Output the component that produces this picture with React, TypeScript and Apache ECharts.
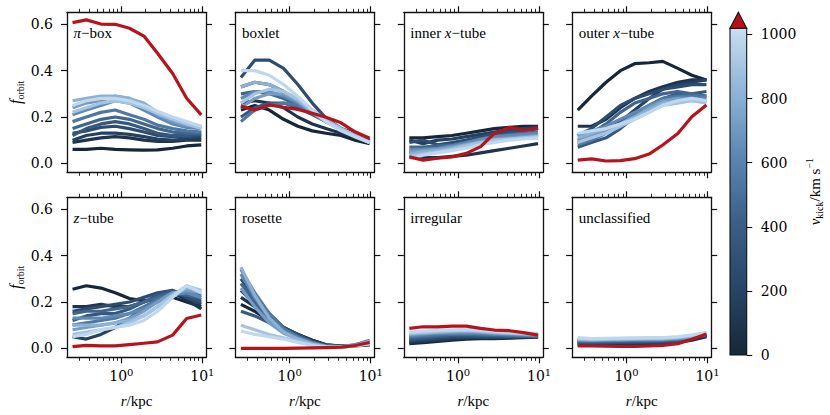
import * as echarts from "echarts"
import { useEffect, useRef } from "react"

// radial bins (kpc)
const R = [0.25, 0.37, 0.56, 0.84, 1.26, 1.9, 2.8, 4.3, 6.4, 9.7]

// kick velocities of the blue runs (km/s)
const KICKS = [0, 90, 180, 270, 360, 450, 540, 630, 720, 810, 900, 990]

const PI_BOX = [
  [0.06, 0.06, 0.065, 0.06, 0.058, 0.057, 0.058, 0.065, 0.075, 0.08],
  [0.09, 0.1, 0.11, 0.115, 0.11, 0.1, 0.095, 0.095, 0.1, 0.1],
  [0.1, 0.12, 0.13, 0.13, 0.125, 0.115, 0.105, 0.1, 0.105, 0.11],
  [0.13, 0.14, 0.155, 0.16, 0.15, 0.135, 0.12, 0.115, 0.115, 0.12],
  [0.12, 0.15, 0.17, 0.18, 0.17, 0.15, 0.13, 0.12, 0.12, 0.125],
  [0.15, 0.17, 0.19, 0.2, 0.19, 0.17, 0.15, 0.135, 0.13, 0.13],
  [0.18, 0.2, 0.22, 0.23, 0.21, 0.19, 0.165, 0.15, 0.14, 0.135],
  [0.21, 0.23, 0.25, 0.27, 0.26, 0.23, 0.2, 0.17, 0.155, 0.15],
  [0.24, 0.26, 0.27, 0.29, 0.28, 0.25, 0.21, 0.18, 0.165, 0.155],
  [0.27, 0.28, 0.29, 0.29, 0.28, 0.26, 0.22, 0.19, 0.17, 0.16],
  [0.22, 0.24, 0.26, 0.27, 0.26, 0.24, 0.215, 0.19, 0.17, 0.15],
  [0.25, 0.27, 0.28, 0.28, 0.27, 0.25, 0.225, 0.2, 0.18, 0.16],
]
const PI_BOX_RED = [0.607, 0.619, 0.601, 0.6, 0.583, 0.549, 0.475, 0.388, 0.281, 0.209]

const BOXLET = [
  [0.23, 0.25, 0.23, 0.19, 0.16, 0.14, 0.13, 0.12, 0.1, 0.085],
  [0.26, 0.27, 0.26, 0.24, 0.2, 0.17, 0.15, 0.13, 0.11, 0.09],
  [0.33, 0.35, 0.34, 0.31, 0.27, 0.22, 0.18, 0.15, 0.12, 0.095],
  [0.37, 0.445, 0.445, 0.41, 0.34, 0.26, 0.195, 0.15, 0.13, 0.1],
  [0.2, 0.24, 0.26, 0.26, 0.24, 0.21, 0.18, 0.15, 0.12, 0.095],
  [0.3, 0.31, 0.3, 0.28, 0.25, 0.22, 0.18, 0.15, 0.12, 0.095],
  [0.18, 0.23, 0.25, 0.26, 0.25, 0.22, 0.185, 0.15, 0.12, 0.09],
  [0.28, 0.31, 0.31, 0.29, 0.26, 0.22, 0.18, 0.145, 0.12, 0.09],
  [0.24, 0.28, 0.3, 0.3, 0.27, 0.23, 0.19, 0.15, 0.12, 0.09],
  [0.33, 0.35, 0.34, 0.31, 0.27, 0.22, 0.18, 0.145, 0.115, 0.09],
  [0.26, 0.3, 0.32, 0.31, 0.28, 0.23, 0.185, 0.15, 0.12, 0.09],
  [0.4, 0.4, 0.38, 0.34, 0.29, 0.23, 0.18, 0.14, 0.115, 0.09],
]
const BOXLET_RED = [0.247, 0.23, 0.252, 0.242, 0.233, 0.216, 0.199, 0.175, 0.136, 0.108]

const INNER_X_TUBE = [
  [0.11, 0.11, 0.115, 0.12, 0.13, 0.14, 0.15, 0.155, 0.16, 0.16],
  [0.03, 0.025, 0.025, 0.03, 0.035, 0.045, 0.055, 0.065, 0.075, 0.085],
  [0.1, 0.085, 0.1, 0.105, 0.115, 0.125, 0.135, 0.145, 0.15, 0.155],
  [0.09, 0.1, 0.08, 0.09, 0.1, 0.115, 0.125, 0.135, 0.14, 0.15],
  [0.05, 0.045, 0.05, 0.06, 0.075, 0.09, 0.1, 0.11, 0.115, 0.12],
  [0.07, 0.07, 0.075, 0.08, 0.09, 0.1, 0.115, 0.125, 0.13, 0.135],
  [0.04, 0.05, 0.06, 0.07, 0.085, 0.1, 0.11, 0.115, 0.12, 0.125],
  [0.06, 0.06, 0.065, 0.075, 0.09, 0.105, 0.115, 0.12, 0.125, 0.13],
  [0.05, 0.055, 0.06, 0.07, 0.08, 0.095, 0.105, 0.11, 0.115, 0.12],
  [0.04, 0.05, 0.055, 0.065, 0.08, 0.09, 0.1, 0.105, 0.11, 0.11],
  [0.03, 0.04, 0.05, 0.06, 0.075, 0.09, 0.1, 0.105, 0.11, 0.115],
  [0.02, 0.035, 0.045, 0.055, 0.065, 0.08, 0.09, 0.1, 0.105, 0.11],
]
const INNER_X_TUBE_RED = [0.028, 0.014, 0.022, 0.028, 0.043, 0.072, 0.129, 0.155, 0.144, 0.151]

const OUTER_X_TUBE = [
  [0.23, 0.29, 0.35, 0.4, 0.43, 0.434, 0.44, 0.41, 0.38, 0.36],
  [0.16, 0.16, 0.19, 0.24, 0.28, 0.31, 0.33, 0.35, 0.36, 0.36],
  [0.09, 0.11, 0.14, 0.18, 0.23, 0.28, 0.32, 0.34, 0.35, 0.36],
  [0.12, 0.15, 0.2, 0.25, 0.28, 0.3, 0.32, 0.33, 0.34, 0.34],
  [0.07, 0.09, 0.11, 0.15, 0.2, 0.25, 0.28, 0.3, 0.3, 0.31],
  [0.1, 0.13, 0.17, 0.22, 0.26, 0.28, 0.3, 0.31, 0.3, 0.29],
  [0.08, 0.1, 0.13, 0.17, 0.21, 0.25, 0.28, 0.29, 0.29, 0.29],
  [0.12, 0.14, 0.16, 0.19, 0.22, 0.25, 0.27, 0.28, 0.28, 0.28],
  [0.1, 0.12, 0.14, 0.17, 0.2, 0.24, 0.27, 0.28, 0.28, 0.27],
  [0.11, 0.13, 0.15, 0.17, 0.2, 0.23, 0.26, 0.27, 0.27, 0.27],
  [0.09, 0.11, 0.13, 0.16, 0.19, 0.22, 0.25, 0.26, 0.27, 0.26],
  [0.13, 0.14, 0.15, 0.17, 0.19, 0.22, 0.25, 0.27, 0.28, 0.27],
]
const OUTER_X_TUBE_RED = [0.014, 0.019, 0.01, 0.012, 0.02, 0.04, 0.079, 0.129, 0.201, 0.252]

const Z_TUBE = [
  [0.255, 0.27, 0.26, 0.24, 0.215, 0.205, 0.21, 0.22, 0.2, 0.18],
  [0.18, 0.18, 0.19, 0.18, 0.18, 0.2, 0.22, 0.24, 0.21, 0.17],
  [0.05, 0.04, 0.06, 0.09, 0.13, 0.17, 0.21, 0.24, 0.22, 0.19],
  [0.16, 0.17, 0.18, 0.19, 0.2, 0.22, 0.24, 0.25, 0.22, 0.2],
  [0.12, 0.14, 0.15, 0.15, 0.17, 0.2, 0.23, 0.25, 0.23, 0.21],
  [0.15, 0.16, 0.16, 0.17, 0.18, 0.2, 0.22, 0.24, 0.23, 0.22],
  [0.1, 0.11, 0.12, 0.13, 0.15, 0.18, 0.21, 0.24, 0.24, 0.23],
  [0.13, 0.13, 0.13, 0.14, 0.15, 0.17, 0.2, 0.23, 0.24, 0.22],
  [0.08, 0.09, 0.1, 0.11, 0.13, 0.16, 0.2, 0.24, 0.25, 0.24],
  [0.1, 0.1, 0.1, 0.11, 0.12, 0.14, 0.18, 0.23, 0.26, 0.25],
  [0.06, 0.07, 0.08, 0.09, 0.11, 0.14, 0.18, 0.23, 0.27, 0.25],
  [0.05, 0.06, 0.08, 0.09, 0.1, 0.12, 0.16, 0.22, 0.27, 0.24],
]
const Z_TUBE_RED = [0.007, 0.013, 0.011, 0.011, 0.016, 0.022, 0.028, 0.057, 0.129, 0.144]

const ROSETTE = [
  [0.19, 0.16, 0.12, 0.085, 0.06, 0.035, 0.015, 0.01, 0.01, 0.015],
  [0.22, 0.18, 0.13, 0.09, 0.06, 0.035, 0.015, 0.01, 0.012, 0.02],
  [0.25, 0.19, 0.13, 0.085, 0.055, 0.03, 0.012, 0.008, 0.012, 0.025],
  [0.3, 0.22, 0.15, 0.09, 0.06, 0.03, 0.012, 0.008, 0.012, 0.025],
  [0.16, 0.14, 0.11, 0.08, 0.05, 0.028, 0.01, 0.006, 0.01, 0.02],
  [0.28, 0.2, 0.13, 0.08, 0.05, 0.025, 0.01, 0.006, 0.012, 0.03],
  [0.34, 0.24, 0.15, 0.085, 0.05, 0.025, 0.01, 0.008, 0.015, 0.035],
  [0.32, 0.22, 0.13, 0.075, 0.045, 0.022, 0.01, 0.008, 0.015, 0.03],
  [0.26, 0.18, 0.11, 0.065, 0.04, 0.02, 0.008, 0.006, 0.012, 0.025],
  [0.35, 0.23, 0.13, 0.07, 0.04, 0.02, 0.008, 0.006, 0.012, 0.03],
  [0.1, 0.08, 0.06, 0.045, 0.03, 0.015, 0.006, 0.005, 0.01, 0.02],
  [0.075, 0.06, 0.05, 0.04, 0.025, 0.012, 0.005, 0.005, 0.01, 0.02],
]
const ROSETTE_RED = [0.0, 0.0, 0.0, 0.0, 0.001, 0.002, 0.003, 0.005, 0.012, 0.025]

const IRREGULAR = [
  [0.02, 0.025, 0.03, 0.035, 0.04, 0.042, 0.042, 0.044, 0.046, 0.048],
  [0.025, 0.03, 0.035, 0.04, 0.045, 0.045, 0.045, 0.046, 0.048, 0.05],
  [0.03, 0.035, 0.04, 0.045, 0.048, 0.048, 0.047, 0.048, 0.05, 0.05],
  [0.035, 0.04, 0.045, 0.05, 0.052, 0.05, 0.05, 0.05, 0.05, 0.05],
  [0.04, 0.045, 0.05, 0.055, 0.057, 0.055, 0.053, 0.052, 0.052, 0.052],
  [0.045, 0.05, 0.055, 0.06, 0.06, 0.058, 0.056, 0.055, 0.054, 0.053],
  [0.05, 0.055, 0.06, 0.062, 0.064, 0.062, 0.06, 0.058, 0.056, 0.055],
  [0.055, 0.06, 0.065, 0.066, 0.068, 0.065, 0.062, 0.06, 0.058, 0.056],
  [0.06, 0.064, 0.068, 0.07, 0.072, 0.07, 0.066, 0.063, 0.06, 0.058],
  [0.062, 0.066, 0.07, 0.073, 0.075, 0.072, 0.068, 0.065, 0.062, 0.06],
  [0.065, 0.07, 0.074, 0.077, 0.078, 0.075, 0.07, 0.067, 0.064, 0.062],
  [0.07, 0.074, 0.078, 0.08, 0.082, 0.078, 0.074, 0.07, 0.067, 0.065],
]
const IRREGULAR_RED = [0.086, 0.093, 0.093, 0.096, 0.096, 0.086, 0.079, 0.076, 0.068, 0.057]

const UNCLASSIFIED = [
  [0.015, 0.015, 0.016, 0.017, 0.018, 0.019, 0.02, 0.025, 0.035, 0.05],
  [0.02, 0.019, 0.019, 0.02, 0.021, 0.022, 0.024, 0.028, 0.04, 0.055],
  [0.022, 0.021, 0.022, 0.023, 0.024, 0.025, 0.026, 0.03, 0.042, 0.056],
  [0.025, 0.024, 0.025, 0.026, 0.027, 0.028, 0.029, 0.033, 0.044, 0.057],
  [0.028, 0.027, 0.028, 0.029, 0.03, 0.03, 0.031, 0.035, 0.045, 0.058],
  [0.03, 0.03, 0.031, 0.032, 0.033, 0.033, 0.034, 0.037, 0.047, 0.06],
  [0.033, 0.032, 0.033, 0.034, 0.035, 0.035, 0.036, 0.04, 0.049, 0.061],
  [0.035, 0.034, 0.035, 0.036, 0.037, 0.037, 0.038, 0.042, 0.05, 0.062],
  [0.038, 0.036, 0.037, 0.038, 0.039, 0.04, 0.04, 0.044, 0.052, 0.064],
  [0.04, 0.038, 0.039, 0.04, 0.041, 0.042, 0.042, 0.046, 0.054, 0.065],
  [0.043, 0.04, 0.041, 0.042, 0.043, 0.044, 0.044, 0.048, 0.056, 0.066],
  [0.046, 0.042, 0.043, 0.044, 0.045, 0.046, 0.046, 0.05, 0.058, 0.068],
]
const UNCLASSIFIED_RED = [0.011, 0.01, 0.009, 0.008, 0.008, 0.01, 0.013, 0.02, 0.039, 0.062]

const PANEL_LABELS = [
  "{i|π}{n|−box}",
  "{n|boxlet}",
  "{n|inner }{i|x}{n|−tube}",
  "{n|outer }{i|x}{n|−tube}",
  "{i|z}{n|−tube}",
  "{n|rosette}",
  "{n|irregular}",
  "{n|unclassified}",
]
const PANEL_BLUE = [PI_BOX, BOXLET, INNER_X_TUBE, OUTER_X_TUBE, Z_TUBE, ROSETTE, IRREGULAR, UNCLASSIFIED]
const PANEL_RED = [
  PI_BOX_RED, BOXLET_RED, INNER_X_TUBE_RED, OUTER_X_TUBE_RED,
  Z_TUBE_RED, ROSETTE_RED, IRREGULAR_RED, UNCLASSIFIED_RED,
]

// tick values
const Y_TICKS = [0, 0.2, 0.4, 0.6]
const X_MAJOR = [1, 10]
const X_MINOR = [0.3, 0.4, 0.5, 0.6, 0.7, 0.8, 0.9, 2, 3, 4, 5, 6, 7, 8, 9]
const CB_TICKS = [0, 200, 400, 600, 800, 1000]

// axis ranges
const X_MIN = 0.2136
const X_MAX = 11.1
const Y_MIN = -0.0387
const Y_MAX = 0.6518
const CB_MAX = 1019

// layout
const COL_LEFT = [67, 235.4, 403.8, 572.2]
const ROW_TOP = [12.3, 197.3]
const PW = 139
const PH = 160

const RED = "#b5141c"
const INK = "#111"
const TICK_FONT = "'DejaVu Serif', serif"
const TEXT_FONT = "'Liberation Serif', 'Times New Roman', serif"

const CMAP: [number, string][] = [
  [0, "#162739"],
  [0.2, "#274566"],
  [0.4, "#3a5e85"],
  [0.6, "#5a85af"],
  [0.8, "#8db2d6"],
  [1, "#c8def2"],
]

function hexToRgb(h: string) {
  const n = parseInt(h.slice(1), 16)
  return [(n >> 16) & 255, (n >> 8) & 255, n & 255]
}

function cmap(t: number) {
  const v = Math.max(0, Math.min(1, t))
  for (let i = 1; i < CMAP.length; i++) {
    if (v <= CMAP[i][0]) {
      const [t0, c0] = CMAP[i - 1]
      const [t1, c1] = CMAP[i]
      const f = (v - t0) / (t1 - t0)
      const a = hexToRgb(c0)
      const b = hexToRgb(c1)
      const c = a.map((x, k) => Math.round(x + (b[k] - x) * f))
      return `rgb(${c[0]},${c[1]},${c[2]})`
    }
  }
  return CMAP[CMAP.length - 1][1]
}

const txt = (size: number, extra: any = {}) => ({
  fontFamily: TEXT_FONT,
  fontSize: size,
  fontWeight: "normal",
  color: "#000",
  ...extra,
})

export default function App() {
  const ref = useRef<HTMLDivElement>(null)

  useEffect(() => {
    if (!ref.current) return
    const chart = echarts.init(ref.current, null, { renderer: "svg" })

    const grid: any[] = []
    const xAxis: any[] = []
    const yAxis: any[] = []
    const series: any[] = []
    const title: any[] = []

    const frame = { show: true, onZero: false, lineStyle: { color: INK, width: 1.3 } }
    const noLine = { show: false, onZero: false }
    const majorTick = (vals: number[]) => ({
      show: true,
      inside: false,
      customValues: vals,
      length: 6,
      lineStyle: { color: INK, width: 1.2 },
    })
    const minorTick = {
      show: true,
      inside: false,
      customValues: X_MINOR,
      length: 3.5,
      lineStyle: { color: INK, width: 0.9 },
    }

    for (let g = 0; g < 8; g++) {
      const row = Math.floor(g / 4)
      const col = g % 4
      const box = {
        left: COL_LEFT[col],
        top: ROW_TOP[row],
        width: PW,
        height: PH,
        outerBoundsMode: "none",
        containLabel: false,
      }
      // grid A: frame, major ticks, data; grid B: minor x ticks
      grid.push({ ...box }, { ...box })
      const gA = 2 * g
      const gB = 2 * g + 1
      const xBase = {
        type: "log",
        logBase: 10,
        min: X_MIN,
        max: X_MAX,
        splitLine: { show: false },
        minorTick: { show: false },
      }

      xAxis.push({
        ...xBase,
        gridIndex: gA,
        position: "bottom",
        axisLine: frame,
        axisTick: majorTick(X_MAJOR),
        axisLabel:
          row === 1
            ? {
                show: true,
                customValues: X_MAJOR,
                margin: 10,
                formatter: (v: number) => `{b|10}{s|${Math.round(Math.log10(v))}}`,
                rich: {
                  b: { fontFamily: TICK_FONT, fontSize: 14, lineHeight: 18, color: "#000" },
                  s: { fontFamily: TICK_FONT, fontSize: 10, lineHeight: 10, verticalAlign: "top", color: "#000" },
                },
              }
            : { show: false },
        name: row === 1 ? "{i|r}{n|/kpc}" : "",
        nameLocation: "middle",
        nameGap: 36,
        nameTextStyle: {
          rich: {
            i: txt(15, { fontStyle: "italic" }),
            n: txt(15),
          },
        },
      })
      xAxis.push({
        ...xBase,
        gridIndex: gA,
        position: "top",
        axisLine: frame,
        axisTick: majorTick(X_MAJOR),
        axisLabel: { show: false },
      })
      xAxis.push({
        ...xBase,
        gridIndex: gB,
        position: "bottom",
        axisLine: noLine,
        axisTick: minorTick,
        axisLabel: { show: false },
      })
      xAxis.push({
        ...xBase,
        gridIndex: gB,
        position: "top",
        axisLine: noLine,
        axisTick: minorTick,
        axisLabel: { show: false },
      })

      const yBase = { type: "value", min: Y_MIN, max: Y_MAX, splitLine: { show: false } }
      yAxis.push({
        ...yBase,
        gridIndex: gA,
        position: "left",
        axisLine: frame,
        axisTick: majorTick(Y_TICKS),
        axisLabel:
          col === 0
            ? {
                show: true,
                customValues: Y_TICKS,
                margin: 14,
                formatter: (v: number) => v.toFixed(1),
                fontFamily: TICK_FONT,
                fontSize: 14,
                color: "#000",
              }
            : { show: false },
        name: col === 0 ? "{f|f}{o|orbit}" : "",
        nameLocation: "middle",
        nameRotate: 90,
        nameGap: 42,
        nameTextStyle: {
          rich: {
            f: txt(16, { fontStyle: "italic", lineHeight: 20 }),
            o: txt(10, { lineHeight: 10, verticalAlign: "bottom" }),
          },
        },
      })
      yAxis.push({
        ...yBase,
        gridIndex: gA,
        position: "right",
        axisLine: frame,
        axisTick: majorTick(Y_TICKS),
        axisLabel: { show: false },
      })
      yAxis.push({ ...yBase, gridIndex: gB, show: false, axisLine: noLine })

      const blue = PANEL_BLUE[g]
      blue.forEach((vals, k) => {
        series.push({
          type: "line",
          xAxisIndex: 4 * g,
          yAxisIndex: 3 * g,
          data: R.map((r, i) => [r, vals[i]]),
          symbol: "none",
          silent: true,
          lineStyle: { color: cmap(KICKS[k] / CB_MAX), width: 3.2, join: "round" },
          z: 2,
        })
      })
      series.push({
        type: "line",
        xAxisIndex: 4 * g,
        yAxisIndex: 3 * g,
        data: R.map((r, i) => [r, PANEL_RED[g][i]]),
        symbol: "none",
        silent: true,
        lineStyle: { color: RED, width: 3.2, join: "round" },
        z: 3,
      })

      title.push({
        text: PANEL_LABELS[g],
        left: COL_LEFT[col] + 6.5,
        top: ROW_TOP[row] + 12,
        padding: 0,
        textStyle: {
          ...txt(15, { lineHeight: 18 }),
          rich: {
            i: txt(15, { fontStyle: "italic", lineHeight: 18 }),
            n: txt(15, { lineHeight: 18 }),
          },
        },
      })
    }

    // colorbar
    grid.push({ left: 730, top: 28.3, width: 16.7, height: 326.7, outerBoundsMode: "none", containLabel: false })
    xAxis.push({ type: "value", gridIndex: 16, min: 0, max: 1, show: false })
    yAxis.push({
      type: "value",
      gridIndex: 16,
      min: 0,
      max: CB_MAX,
      position: "right",
      splitLine: { show: false },
      axisLine: noLine,
      axisTick: {
        show: true,
        inside: false,
        customValues: CB_TICKS,
        length: 5.5,
        lineStyle: { color: INK, width: 1.1 },
      },
      axisLabel: {
        show: true,
        customValues: CB_TICKS,
        margin: 14,
        formatter: (v: number) => String(v),
        fontFamily: TICK_FONT,
        fontSize: 14,
        color: "#000",
      },
      name: "{v|ν}{k|kick}{n|/km s}{s|−1}",
      nameLocation: "middle",
      nameRotate: 90,
      nameGap: 58,
      nameTextStyle: {
        rich: {
          v: txt(15, { fontStyle: "italic", lineHeight: 20 }),
          k: txt(10, { lineHeight: 10, verticalAlign: "bottom" }),
          n: txt(15, { lineHeight: 20 }),
          s: txt(10, { lineHeight: 10, verticalAlign: "top" }),
        },
      },
    })
    const stops = CMAP.map(([o, c]) => ({ offset: o, color: c }))
    series.push({
      type: "custom",
      xAxisIndex: 32,
      yAxisIndex: 24,
      silent: true,
      clip: false,
      data: [[0, 0]],
      renderItem: (_params: any, api: any) => {
        const p0 = api.coord([0, 0])
        const p1 = api.coord([1, CB_MAX])
        return {
          type: "group",
          children: [
            {
              type: "rect",
              shape: { x: p0[0], y: p1[1], width: p1[0] - p0[0], height: p0[1] - p1[1] },
              style: {
                fill: new echarts.graphic.LinearGradient(0, 1, 0, 0, stops),
                stroke: INK,
                lineWidth: 1.1,
              },
            },
            {
              type: "polygon",
              shape: {
                points: [
                  [p0[0], p1[1]],
                  [p1[0], p1[1]],
                  [(p0[0] + p1[0]) / 2, p1[1] - 16],
                ],
              },
              style: { fill: "#b31217", stroke: INK, lineWidth: 1.1 },
            },
          ],
        }
      },
    })

    chart.setOption({
      animation: false,
      backgroundColor: "#fff",
      textStyle: { fontFamily: TICK_FONT },
      title,
      grid,
      xAxis,
      yAxis,
      series,
    })

    return () => chart.dispose()
  }, [])

  return (
    <div
      ref={ref}
      style={{ position: "fixed", left: 0, top: 0, width: 830, height: 415, background: "#fff" }}
    />
  )
}
